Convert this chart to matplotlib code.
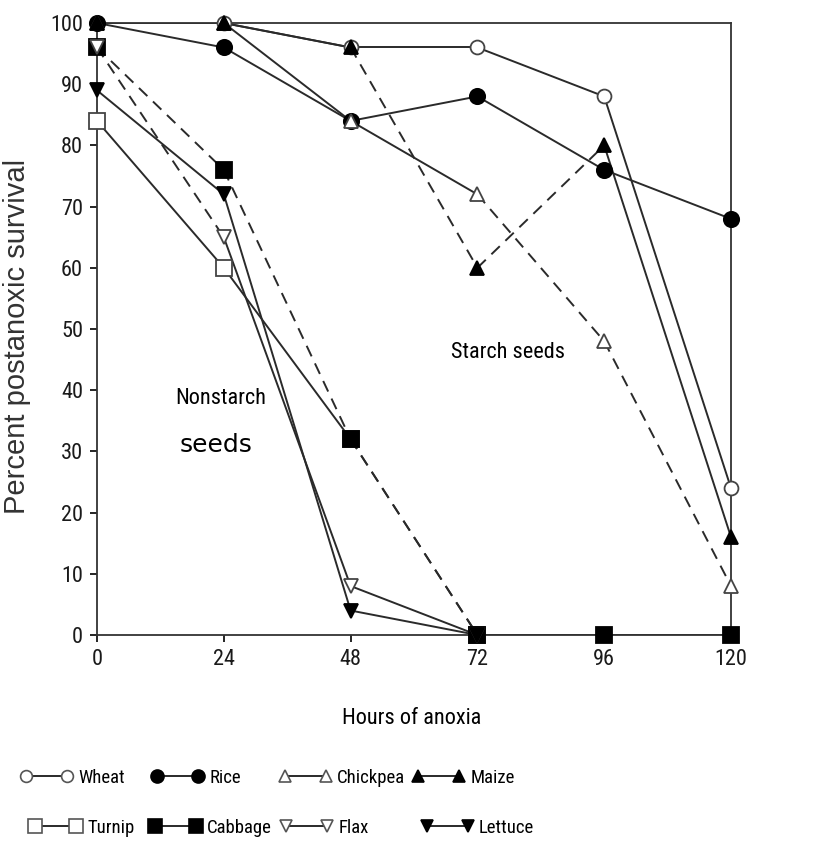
import matplotlib
matplotlib.use("Agg")
import matplotlib.pyplot as plt
from matplotlib.lines import Line2D
from matplotlib import font_manager

hours = [0, 24, 48, 72, 96, 120]

wheat = [100, 100, 96, 96, 88, 24]
rice = [100, 96, 84, 88, 76, 68]
chickpea = [100, 100, 84, 72, 48, 8]
maize = [100, 100, 96, 60, 80, 16]
turnip = [84, 60, 32, 0]
cabbage = [96, 76, 32, 0, 0, 0]
flax = [96, 65, 8, 0]
lettuce = [89, 72, 4, 0]

names = ["Wheat", "Rice", "Chickpea", "Maize", "Turnip", "Cabbage", "Flax", "Lettuce"]
series = [wheat, rice, chickpea, maize, turnip, cabbage, flax, lettuce]
markers = ["o", "o", "^", "^", "s", "s", "v", "v"]
filled = [False, True, False, True, False, True, False, True]
msizes = [10, 11, 10, 10, 12, 12, 10, 10]
D = (0, (6, 4))
seg_styles = [
    ["-", "-", "-", "-", "-"],
    ["-", "-", "-", "-", "-"],
    ["-", "-", "-", D, D],
    ["-", "-", D, D, "-"],
    ["-", "-", D],
    [D, D, D, "-", "-"],
    [D, "-", "-"],
    ["-", "-", "-"],
]
# legend entry anchor positions (pixels) in reference
leg_pos = {"Wheat": (20, 778), "Rice": (151, 778), "Chickpea": (279, 778), "Maize": (412, 778),
           "Turnip": (29, 828), "Cabbage": (149, 828), "Flax": (280, 828), "Lettuce": (421, 828)}

avail = {f.name for f in font_manager.fontManager.ttflist}
cands = ["Liberation Sans Narrow", "Roboto Condensed", "DejaVu Sans Condensed", "Liberation Sans"]
narrow = [f for f in cands if f in avail][:1] or ["DejaVu Sans"]
plt.rcParams["font.family"] = narrow + ["DejaVu Sans"]
wide = [f for f in ["Liberation Sans", "DejaVu Sans"] if f in avail] + ["DejaVu Sans"]

W, H = 814, 847
fig = plt.figure(figsize=(W / 100, H / 100), dpi=100)
ax = fig.add_axes([97 / W, 1 - 635 / H, 634 / W, 612 / H])

lc = "#2a2a2a"
for ys, m, f, ms, styles in zip(series, markers, filled, msizes, seg_styles):
    xs = hours[:len(ys)]
    for i in range(len(ys) - 1):
        ax.plot(xs[i:i + 2], ys[i:i + 2], color=lc, lw=1.4, linestyle=styles[i],
                zorder=2, solid_capstyle="butt")
    ax.plot(xs, ys, linestyle="none", marker=m, markersize=ms,
            markerfacecolor="black" if f else "white",
            markeredgecolor="black" if f else "#444444",
            markeredgewidth=1.3, zorder=3, clip_on=False)

ax.set_xlim(0, 120)
ax.set_ylim(0, 100)
ax.set_xticks(hours)
ax.set_yticks(range(0, 101, 10))
ax.tick_params(axis="both", labelsize=16, direction="out", length=5, width=1.2, pad=5,
               labelcolor="#1a1a1a")
for s in ax.spines.values():
    s.set_linewidth(1.3)
    s.set_color("#333333")

ax.set_xlabel("Hours of anoxia", fontsize=16)
ax.xaxis.set_label_coords((412 - 97) / 634, (635 - 708) / 612)
ax.set_ylabel("Percent postanoxic survival", fontsize=21, color="#333333", family=wide)
ax.yaxis.set_label_coords((31 - 97) / 634, (635 - 336) / 612)

ax.text(77.8, 46.2, "Starch seeds", fontsize=16, ha="center", va="center")
ax.text(23.5, 38.7, "Nonstarch", fontsize=16, ha="center", va="center")
ax.text(22.5, 31.0, "seeds", fontsize=18, ha="center", va="center", family="DejaVu Sans")

for k, name in enumerate(names):
    h = Line2D([0], [0], color=lc, lw=1.4, marker=markers[k],
               markersize=msizes[k] * 0.85,
               markerfacecolor="black" if filled[k] else "white",
               markeredgecolor="black" if filled[k] else "#555555",
               markeredgewidth=1.2)
    px, py = leg_pos[name]
    fig.legend([h], [name], loc="center left", bbox_to_anchor=(px / W, 1 - py / H),
               numpoints=2, handlelength=2.8, frameon=False, fontsize=13.5,
               handletextpad=0.3, borderpad=0, borderaxespad=0)

fig.savefig("out.png", dpi=100)
